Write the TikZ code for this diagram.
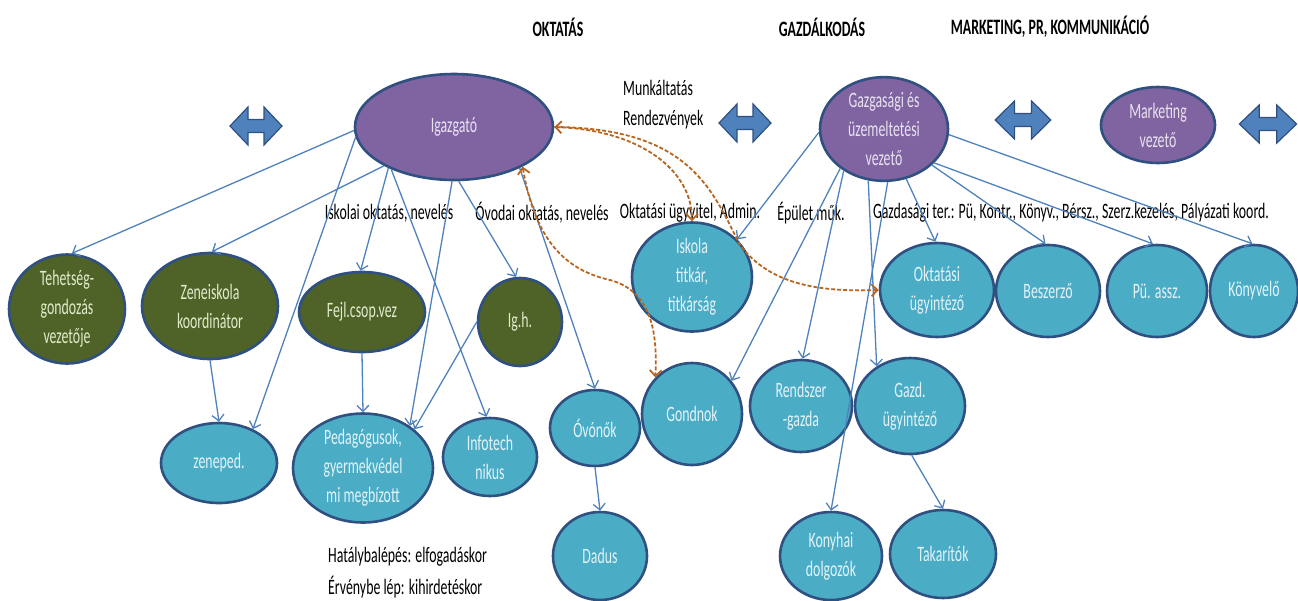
\documentclass[tikz,border=0pt]{standalone}
\usepackage{fontspec}
\setmainfont{Carlito}[FakeStretch=0.63]
\usetikzlibrary{shapes.geometric,arrows.meta}
\definecolor{purp}{HTML}{8064A2}
\definecolor{olivef}{HTML}{4F6228}
\definecolor{aquaf}{HTML}{4BACC6}
\definecolor{rim}{HTML}{2F5080}
\definecolor{lnk}{HTML}{4F81BD}
\definecolor{dashc}{HTML}{B8651E}
\definecolor{ptext}{HTML}{E8E2EE}
\definecolor{gtext}{HTML}{E2ECCB}
\definecolor{atext}{HTML}{E2F3F8}
\tikzset{
  txt/.style={font=\fontsize{22}{29}\selectfont},
  base/.style={ellipse, draw=rim, line width=2.6pt, inner sep=0pt, align=center, txt},
  pnode/.style={base, fill=purp, text=ptext},
  gnode/.style={base, fill=olivef, text=gtext},
  anode/.style={base, fill=aquaf, text=atext},
  conn/.style={draw=lnk, line width=1.3pt, -{Straight Barb[length=6pt,width=12pt]}},
  dconn/.style={draw=dashc, line width=1.8pt, dash pattern=on 4pt off 2pt},
  lbl/.style={txt, text=black, inner sep=0pt},
  hdr/.style={font=\fontsize{22}{26}\selectfont\bfseries, text=black, inner sep=0pt},
  blkarr/.pic={\draw[draw=rim, line width=1.2pt, fill=lnk]
     (-26,0) -- (-8,-19) -- (-8,-6.5) -- (8,-6.5) -- (8,-19) -- (26,0)
     -- (8,19) -- (8,6.5) -- (-8,6.5) -- (-8,19) -- cycle;}
}
\begin{document}
\begin{tikzpicture}[x=1pt,y=-1pt]
\useasboundingbox (0,0) rectangle (1298,600);
% headers
\node[hdr] (h1) at (558,27) {OKTATÁS};
\node[hdr] (h2) at (822,27) {GAZDÁLKODÁS};
\node[hdr] (h3) at (1050,27) {MARKETING, PR, KOMMUNIKÁCIÓ};
% block arrows
\pic at (256,126) {blkarr};
\pic at (745,123) {blkarr};
\pic[xscale=1.07] at (1023,120) {blkarr};
\pic[xscale=1.1] at (1268,124) {blkarr};
% top nodes
\node[pnode, minimum width=198pt, minimum height=106pt] (ig) at (454,127) {Igazgató};
\node[pnode, minimum width=128pt, minimum height=102pt] (gv) at (884,129) {Gazgasági és\\üzemeltetési\\vezető};
\node[pnode, minimum width=114pt, minimum height=76pt] (mv) at (1158,125) {Marketing\\vezető};
% green
\node[gnode, minimum width=116pt, minimum height=84pt] (teh) at (67,309) {Tehetség-\\gondozás\\vezetője};
\node[gnode, minimum width=136pt, minimum height=106pt] (zen) at (210,306) {Zeneiskola\\koordinátor};
\node[gnode, minimum width=126pt, minimum height=80pt] (fej) at (362,312) {Fejl.csop.vez};
\node[gnode, minimum width=84pt, minimum height=88pt] (igh) at (520,322) {Ig.h.};
% aqua
\node[anode, minimum width=116pt, minimum height=80pt] (zp) at (219,463) {zeneped.};
\node[anode, minimum width=140pt, minimum height=94pt] (ped) at (363,468) {Pedagógusok,\\gyermekvédel\\mi megbízott};
\node[anode, minimum width=94pt, minimum height=78pt] (inf) at (490,457) {Infotech\\nikus};
\node[anode, minimum width=90pt, minimum height=76pt] (ovo) at (595,428) {Óvónők};
\node[anode, minimum width=94pt, minimum height=88pt] (dad) at (600,556) {Dadus};
\node[anode, minimum width=100pt, minimum height=102pt] (gon) at (692,414) {Gondnok};
\node[anode, minimum width=102pt, minimum height=92pt] (ren) at (801,406) {Rendszer\\-gazda};
\node[anode, minimum width=110pt, minimum height=96pt] (gaz) at (910,406) {Gazd.\\ügyintéző};
\node[anode, minimum width=102pt, minimum height=88pt] (kon) at (831,556) {Konyhai\\dolgozók};
\node[anode, minimum width=106pt, minimum height=88pt] (tak) at (943,554) {Takarítók};
\node[anode, minimum width=120pt, minimum height=94pt] (isk) at (692,277) {Iskola\\titkár,\\titkárság};
\node[anode, minimum width=114pt, minimum height=94pt] (okt) at (937,290) {Oktatási\\ügyintéző};
\node[anode, minimum width=104pt, minimum height=92pt] (bes) at (1048,291) {Beszerző};
\node[anode, minimum width=100pt, minimum height=92pt] (pu) at (1157,291) {Pü. assz.};
\node[anode, minimum width=88pt, minimum height=92pt] (kony) at (1254,291) {Könyvelő};
% labels
\node[lbl, anchor=west] (l1) at (623,88) {Munkáltatás};
\node[lbl, anchor=west] (l2) at (623,120) {Rendezvények};
\node[lbl] (l3) at (389,213) {Iskolai oktatás, nevelés};
\node[lbl] (l4) at (542,213) {Óvodai oktatás, nevelés};
\node[lbl] (l5) at (690,213) {Oktatási ügyvitel, Admin.};
\node[lbl] (l6) at (811,213) {Épület műk.};
\node[lbl] (l7) at (1071,213) {Gazdasági ter.: Pü, Kontr., Könyv., Bérsz., Szerz.kezelés, Pályázati koord.};
\node[lbl, anchor=west] (l8) at (328,557) {Hatálybalépés: elfogadáskor};
\node[lbl, anchor=west] (l9) at (328,587) {Érvénybe lép: kihirdetéskor};
% connectors from Igazgató
\draw[conn] (ig.182) -- (teh.85);
\draw[conn] (ig.209) -- (zen.88);
\draw[conn] (ig.212) -- (fej.92);
\draw[conn] (ig.186) -- (zp.45);
\draw[conn] (ig.214) -- (inf.95);
\draw[conn] (ig.268) -- (ped.42);
\draw[conn] (ig.275) -- (igh.95);
\draw[conn] (ig.-32) -- (ovo.north);
\draw[conn] (igh.180) -- (ped.37);
\draw[conn] (zen.south) -- (zp.north);
\draw[conn] (fej.south) -- (ped.north);
\draw[conn] (ovo.south) -- (dad.north);
% connectors from Gazdasági vezető
\draw[conn] (gv.183) -- (isk.40);
\draw[conn] (gv.222) -- (gon.40);
\draw[conn] (gv.226) -- (ren.88);
\draw[conn] (gv.253) -- (gaz.130);
\draw[conn] (gv.-86) -- (kon.north);
\draw[conn] (gv.-66) -- (okt.92);
\draw[conn] (gv.-37) -- (bes.93);
\draw[conn] (gv.-34) -- (pu.95);
\draw[conn] (gv.-5) -- (kony.92);
\draw[conn] (gaz.-88) -- (tak.north);
% dashed
\draw[dconn, {Straight Barb[length=6pt,width=12pt]}-{Straight Barb[length=6pt,width=12pt]}] (ig.0) .. controls (640,130) and (692,170) .. (isk.north);
\draw[dconn, -{Straight Barb[length=6pt,width=12pt]}] (ig.0) .. controls (690,128) and (712,190) .. (740,245) .. controls (770,285) and (820,292) .. (okt.180);
\draw[dconn, {Straight Barb[length=6pt,width=12pt]}-{Straight Barb[length=6pt,width=12pt]}] (ig.-30) .. controls (535,240) and (565,270) .. (610,280) .. controls (655,292) and (657,340) .. (gon.135);
\end{tikzpicture}
\end{document}
